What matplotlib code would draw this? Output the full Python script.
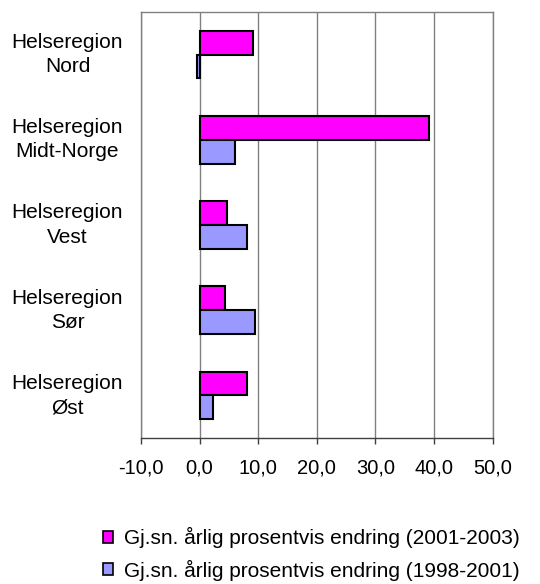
import matplotlib
import matplotlib.pyplot as plt
import matplotlib.transforms as mtransforms
import numpy as np
from matplotlib.patches import Patch

matplotlib.use("agg")
plt.rcParams["font.family"] = ["Liberation Sans", "DejaVu Sans"]

regions = [
    "Helseregion\nNord",
    "Helseregion\nMidt-Norge",
    "Helseregion\nVest",
    "Helseregion\nSør",
    "Helseregion\nØst",
]
change_2001_2003 = [9.1, 39.2, 4.7, 4.3, 8.1]
change_1998_2001 = [-0.4, 6.1, 8.1, 9.5, 2.3]
series_labels = [
    "Gj.sn. årlig prosentvis endring (2001-2003)",
    "Gj.sn. årlig prosentvis endring (1998-2001)",
]
xticks = [-10, 0, 10, 20, 30, 40, 50]

fig = plt.figure(figsize=(5.4, 5.84), dpi=100)
ax = fig.add_axes([141 / 540, 1 - 438 / 584, 351.7 / 540, 426 / 584])

y = np.arange(len(regions))
h = 0.28
ax.barh(y - h / 2, change_2001_2003, height=h, color="#ff00ff",
        edgecolor="black", linewidth=1.5, zorder=3)
ax.barh(y + h / 2, change_1998_2001, height=h, color="#9999ff",
        edgecolor="black", linewidth=1.5, zorder=3)

ax.set_xlim(-10, 50)
ax.set_ylim(len(regions) - 0.5, -0.5)
ax.set_xticks(xticks)
ax.set_xticklabels([f"{v:.1f}".replace(".", ",") for v in xticks], fontsize=14.5)
ax.tick_params(axis="x", direction="out", length=4, width=1, color="#404040", pad=11)
ax.set_yticks([])
ax.grid(axis="x", color="#808080", linewidth=1, zorder=0)

for side in ["top", "left", "right"]:
    ax.spines[side].set_color("#808080")
    ax.spines[side].set_linewidth(1)
ax.spines["bottom"].set_color("#404040")
ax.spines["bottom"].set_linewidth(1)

trans = mtransforms.blended_transform_factory(ax.transAxes, ax.transData)
for yi, name in zip(y, regions):
    ax.text(-0.209, yi, name, transform=trans, ha="center", va="center",
            fontsize=15, linespacing=1.35)

handles = [
    Patch(facecolor="#ff00ff", edgecolor="black", linewidth=1.2),
    Patch(facecolor="#9999ff", edgecolor="black", linewidth=1.2),
]
fig.legend(handles, series_labels, loc="upper left",
           bbox_to_anchor=(103 / 540, 1 - 527 / 584), frameon=False,
           fontsize=15, handlelength=0.5, handleheight=0.5,
           handletextpad=0.5, labelspacing=0.55, borderpad=0,
           borderaxespad=0)

fig.savefig("out.png", dpi=100)
